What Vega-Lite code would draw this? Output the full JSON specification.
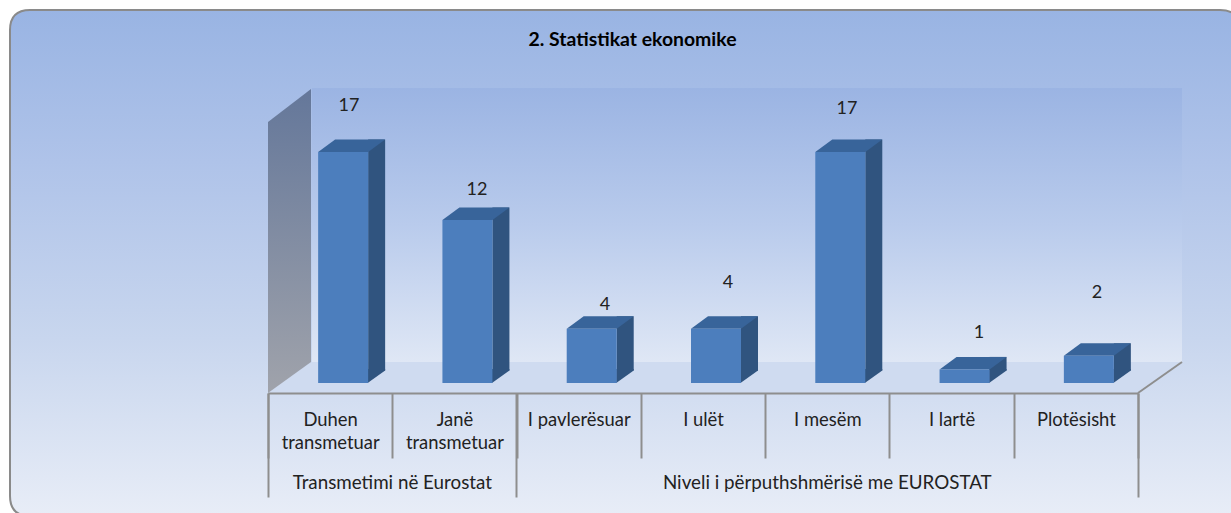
{
"$schema":"https://vega.github.io/schema/vega-lite/v6.json",
"width":1231,"height":513,"padding":0,"autosize":{"type":"none"},"background":"#ffffff",
"title":{"text":"2. Statistikat ekonomike","anchor":"middle","dx":17,"offset":-65,"baseline":"alphabetic","font":"Lato","fontSize":19.4,"fontWeight":"bold","color":"#000000"},
"config":{"view":{"stroke":null},"axis":{"grid":false,"title":null,"zindex":1},"text":{"font":"Lato"}},
"data":{"values":[
{"kategoria":"Duhen transmetuar","vlera":17,"baza":0,"grupi":"Transmetimi në Eurostat"},
{"kategoria":"Janë transmetuar","vlera":12,"baza":0,"grupi":"Transmetimi në Eurostat"},
{"kategoria":"I pavlerësuar","vlera":4,"baza":0,"grupi":"Niveli i përputhshmërisë me EUROSTAT"},
{"kategoria":"I ulët","vlera":4,"baza":0,"grupi":"Niveli i përputhshmërisë me EUROSTAT"},
{"kategoria":"I mesëm","vlera":17,"baza":0,"grupi":"Niveli i përputhshmërisë me EUROSTAT"},
{"kategoria":"I lartë","vlera":1,"baza":0,"grupi":"Niveli i përputhshmërisë me EUROSTAT"},
{"kategoria":"Plotësisht","vlera":2,"baza":0,"grupi":"Niveli i përputhshmërisë me EUROSTAT"}
]},
"encoding":{
"x":{"field":"kategoria","type":"nominal","sort":null,"axis":null,"scale":{"domain":["Duhen transmetuar","Janë transmetuar","I pavlerësuar","I ulët","I mesëm","I lartë","Plotësisht"],"range":[268,1138],"paddingInner":0,"paddingOuter":0}},
"y":{"field":"vlera","type":"quantitative","axis":null,"stack":null,"scale":{"domain":[0,17],"range":[383,152],"nice":false,"zero":true}}
},
"layer":[
{"data":{"values":[{"pjesa":"paneli","baza":0,"fillimi":"Duhen transmetuar"}]},"mark":{"type":"point","filled":true,"opacity":1,"size":4,"shape":"M-238,-373L952,-373Q972,-373 972,-353L972,113Q972,133 952,133L-238,133Q-258,133 -258,113L-258,-353Q-258,-373 -238,-373Z","fill":{"gradient":"linear","x1":0,"y1":0,"x2":0,"y2":1,"stops":[{"offset":0,"color":"#99b4e3"},{"offset":0.3,"color":"#afc3e9"},{"offset":0.65,"color":"#c8d6ee"},{"offset":1,"color":"#e8edf7"}]},"stroke":"#8a8a8a","strokeWidth":2},
"encoding":{"x":{"field":"fillimi","type":"nominal","bandPosition":0,"axis":null},"y":{"field":"baza","type":"quantitative","axis":null}}},
{"data":{"values":[{"pjesa":"muri","baza":0,"fillimi":"Duhen transmetuar"}]},"mark":{"type":"point","filled":true,"opacity":1,"size":4,"shape":"M44,-295L914,-295L914,-21L44,-21Z","fill":{"gradient":"linear","x1":0,"y1":0,"x2":0,"y2":1,"stops":[{"offset":0,"color":"#9bb4e3"},{"offset":0.5,"color":"#b9cbec"},{"offset":1,"color":"#dfe7f5"}]}},
"encoding":{"x":{"field":"fillimi","type":"nominal","bandPosition":0,"axis":null},"y":{"field":"baza","type":"quantitative","axis":null}}},
{"data":{"values":[{"pjesa":"dyshemeja","baza":0,"fillimi":"Duhen transmetuar"}]},"mark":{"type":"point","filled":true,"opacity":1,"size":4,"shape":"M0,10L44,-21L914,-21L870,10Z","fill":"#cfdbf0"},
"encoding":{"x":{"field":"fillimi","type":"nominal","bandPosition":0,"axis":null},"y":{"field":"baza","type":"quantitative","axis":null}}},
{"data":{"values":[{"pjesa":"muri majtas","baza":0,"fillimi":"Duhen transmetuar"}]},"mark":{"type":"point","filled":true,"opacity":1,"size":4,"shape":"M0,10L0,-261L43,-294L43,-21Z","fill":{"gradient":"linear","x1":0,"y1":0,"x2":0,"y2":1,"stops":[{"offset":0,"color":"#64779a"},{"offset":1,"color":"#a0a3ab"}]}},
"encoding":{"x":{"field":"fillimi","type":"nominal","bandPosition":0,"axis":null},"y":{"field":"baza","type":"quantitative","axis":null}}},
{"data":{"values":[{"pjesa":"skaji","baza":0,"fillimi":"Duhen transmetuar"}]},"mark":{"type":"point","filled":false,"opacity":1,"size":4,"shape":"M870,10L914,-21","stroke":"#8e8e8e","strokeWidth":2},
"encoding":{"x":{"field":"fillimi","type":"nominal","bandPosition":0,"axis":null},"y":{"field":"baza","type":"quantitative","axis":null}}},

{"mark":{"type":"bar","width":17,"xOffset":46.5,"yOffset":-12.5,"y2Offset":-12.5,"fill":"#30547f"},
"encoding":{"x":{"field":"kategoria","type":"nominal","sort":null,"axis":{"values":["Plotësisht"],"bandPosition":1,"orient":"bottom","offset":-120,"domain":false,"labels":false,"tickSize":104,"tickColor":"#8e8e8e","tickWidth":2,"zindex":1}},"y2":{"field":"baza"}}},
{"mark":{"type":"point","filled":true,"opacity":1,"size":4,"shape":"M37.5,0L55,-12.5L55,-14L37.5,-14Z","fill":"#30547f"},
"encoding":{"y":{"field":"baza","type":"quantitative","axis":null}}},
{"mark":{"type":"point","filled":true,"opacity":1,"size":4,"shape":"M-12,0L38,0L55,-12.5L5,-12.5Z","fill":"#38649a"},
"encoding":{"x":{"field":"kategoria","type":"nominal","sort":null,"axis":{"values":["Duhen transmetuar","I pavlerësuar"],"bandPosition":0,"orient":"bottom","offset":-120,"domain":false,"labels":false,"tickSize":104,"tickColor":"#8e8e8e","tickWidth":2,"zindex":1}}}},
{"mark":{"type":"bar","width":50,"xOffset":13,"fill":"#4c7ebd"},
"encoding":{"x":{"field":"kategoria","type":"nominal","sort":null,"axis":{"orient":"bottom","offset":-120,"tickBand":"extent","tickSize":65,"tickColor":"#8e8e8e","tickWidth":2,"domainColor":"#8e8e8e","domainWidth":2,"labelAngle":0,"labelFont":"Lato","labelFontSize":18.4,"labelColor":"#222222","labelPadding":-48,"labelBaseline":"top","labelLineHeight":23,"labelLimit":0,"labelOverlap":false,"labelExpr":"test(/transmetuar/, datum.label) ? split(datum.label, ' ') : datum.label","zindex":1}}}},

{"transform":[{"filter":"datum.kategoria=='Duhen transmetuar'"}],"mark":{"type":"text","fontSize":18,"color":"#222222","dx":18.9,"dy":-46},"encoding":{"text":{"field":"vlera","type":"quantitative"}}},
{"transform":[{"filter":"datum.kategoria=='Janë transmetuar'"}],"mark":{"type":"text","fontSize":18,"color":"#222222","dx":22.6,"dy":-30},"encoding":{"text":{"field":"vlera","type":"quantitative"}}},
{"transform":[{"filter":"datum.kategoria=='I pavlerësuar'"}],"mark":{"type":"text","fontSize":18,"color":"#222222","dx":26.3,"dy":-24},"encoding":{"text":{"field":"vlera","type":"quantitative"}}},
{"transform":[{"filter":"datum.kategoria=='I ulët'"}],"mark":{"type":"text","fontSize":18,"color":"#222222","dx":25,"dy":-46},"encoding":{"text":{"field":"vlera","type":"quantitative"}}},
{"transform":[{"filter":"datum.kategoria=='I mesëm'"}],"mark":{"type":"text","fontSize":18,"color":"#222222","dx":19.7,"dy":-43},"encoding":{"text":{"field":"vlera","type":"quantitative"}}},
{"transform":[{"filter":"datum.kategoria=='I lartë'"}],"mark":{"type":"text","fontSize":18,"color":"#222222","dx":27.4,"dy":-36.4},"encoding":{"text":{"field":"vlera","type":"quantitative"}}},
{"transform":[{"filter":"datum.kategoria=='Plotësisht'"}],"mark":{"type":"text","fontSize":18,"color":"#222222","dx":21.1,"dy":-63},"encoding":{"text":{"field":"vlera","type":"quantitative"}}},

{"data":{"values":[{"grupi":"Transmetimi në Eurostat","qendra":"Janë transmetuar","baza":0}]},"mark":{"type":"text","fontSize":18.8,"color":"#222222","dy":100},
"encoding":{"x":{"field":"qendra","type":"nominal","bandPosition":0,"axis":null},"y":{"field":"baza","type":"quantitative","axis":null},"text":{"field":"grupi","type":"nominal"}}},
{"data":{"values":[{"grupi":"Niveli i përputhshmërisë me EUROSTAT","qendra":"I mesëm","baza":0}]},"mark":{"type":"text","fontSize":18.8,"color":"#222222","dy":100},
"encoding":{"x":{"field":"qendra","type":"nominal","bandPosition":0.5,"axis":null},"y":{"field":"baza","type":"quantitative","axis":null},"text":{"field":"grupi","type":"nominal"}}}
],
"resolve":{"axis":{"x":"independent"}}
}
